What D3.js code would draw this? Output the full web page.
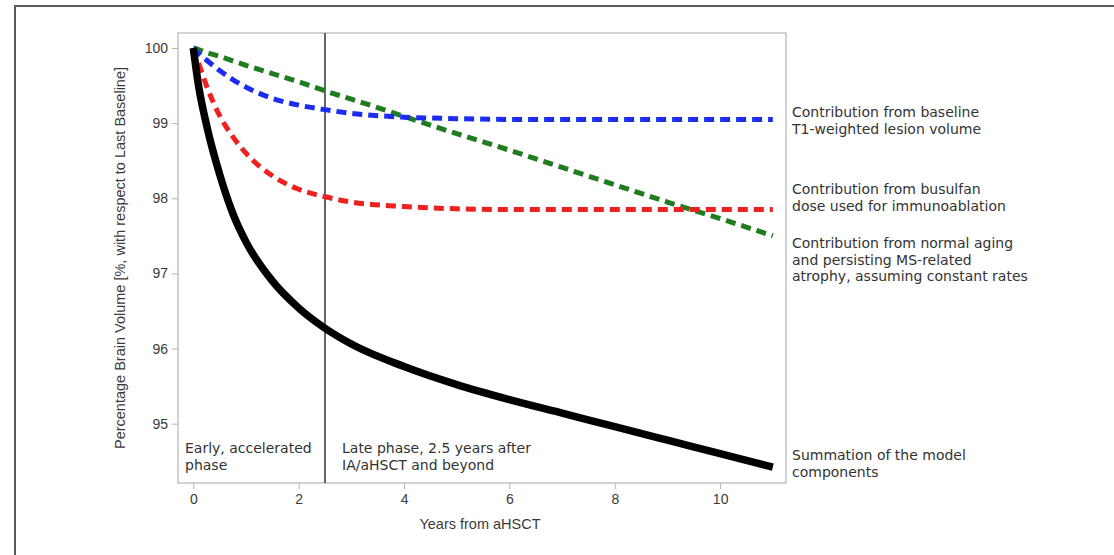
<!DOCTYPE html>
<html>
<head>
<meta charset="utf-8">
<script src="https://cdn.jsdelivr.net/npm/d3@7"></script>
<style>
  body { margin: 0; background: #fff; }
  svg { display: block; }
</style>
</head>
<body>
<script>
// years sampled along each curve
const years = [0, 0.1, 0.25, 0.5, 0.75, 1, 1.5, 2, 2.5, 3, 4, 5, 6, 7, 8, 9, 10, 11];

// model components
const lesionVol = [100, 99.93, 99.84, 99.7, 99.58, 99.48, 99.33, 99.24, 99.18, 99.13, 99.08, 99.06, 99.05, 99.05, 99.05, 99.05, 99.05, 99.05];
const busulfan  = [100, 99.8, 99.5, 99.1, 98.82, 98.6, 98.3, 98.12, 98.02, 97.95, 97.89, 97.86, 97.85, 97.85, 97.85, 97.85, 97.85, 97.85];
const aging     = [100, 99.98, 99.94, 99.89, 99.83, 99.77, 99.66, 99.55, 99.43, 99.32, 99.09, 98.86, 98.64, 98.41, 98.18, 97.95, 97.73, 97.5];
const summation = [100, 99.5, 98.98, 98.32, 97.8, 97.42, 96.9, 96.54, 96.27, 96.06, 95.76, 95.52, 95.32, 95.14, 94.96, 94.78, 94.6, 94.42];

const xTicks = [0, 2, 4, 6, 8, 10];
const yTicks = [95, 96, 97, 98, 99, 100];
const phaseYear = 2.5;

const seriesLabels = [
  ["Contribution from baseline", "T1-weighted lesion volume"],
  ["Contribution from busulfan", "dose used for immunoablation"],
  ["Contribution from normal aging", "and persisting MS-related", "atrophy, assuming constant rates"],
  ["Summation of the model", "components"]
];

const w = 1114, h = 555;
const pLeft = 178, pRight = 786, pTop = 33, pBottom = 483;

const svg = d3.select("body").append("svg")
  .attr("width", w)
  .attr("height", h);

// outer frame (runs off the page on right / bottom)
svg.append("rect")
  .attr("x", 15).attr("y", 6)
  .attr("width", 1200).attr("height", 700)
  .attr("fill", "none")
  .attr("stroke", "#5a5a5a")
  .attr("stroke-width", 2);

const x = d3.scaleLinear().domain([-0.29, 11.25]).range([pLeft, pRight]);
const y = d3.scaleLinear().domain([94.21, 100.2]).range([pBottom, pTop]);

// plot box
svg.append("rect")
  .attr("x", pLeft).attr("y", pTop)
  .attr("width", pRight - pLeft).attr("height", pBottom - pTop)
  .attr("fill", "none")
  .attr("stroke", "#b4b4b4")
  .attr("stroke-width", 1.2);

const xAxis = svg.append("g")
  .attr("transform", "translate(0," + pBottom + ")")
  .call(d3.axisBottom(x).tickValues(xTicks).tickSize(6).tickPadding(5).tickFormat(d3.format("d")));

const yAxis = svg.append("g")
  .attr("transform", "translate(" + pLeft + ",0)")
  .call(d3.axisLeft(y).tickValues(yTicks).tickSize(6).tickPadding(4).tickFormat(d3.format("d")));

[xAxis, yAxis].forEach(g => {
  g.select(".domain").remove();
  g.selectAll(".tick line").attr("stroke", "#b4b4b4");
  g.selectAll(".tick text")
    .attr("fill", "#3a3a3a")
    .style("font-family", "Liberation Sans, Arial, sans-serif")
    .style("font-size", "14px");
});

// axis titles
svg.append("text")
  .attr("x", 480)
  .attr("y", 529)
  .attr("text-anchor", "middle")
  .attr("fill", "#3a3a3a")
  .style("font-family", "Liberation Sans, Arial, sans-serif")
  .style("font-size", "14.5px")
  .text("Years from aHSCT");

svg.append("text")
  .attr("transform", "translate(125,258) rotate(-90)")
  .attr("text-anchor", "middle")
  .attr("fill", "#3a3a3a")
  .style("font-family", "Liberation Sans, Arial, sans-serif")
  .style("font-size", "14.5px")
  .text("Percentage Brain Volume [%, with respect to Last Baseline]");

// phase divider
svg.append("line")
  .attr("x1", x(phaseYear)).attr("x2", x(phaseYear))
  .attr("y1", pTop).attr("y2", pBottom)
  .attr("stroke", "#333")
  .attr("stroke-width", 1.5);

const line = vals => d3.line()
  .x((d, i) => x(years[i]))
  .y(d => y(d))
  .curve(d3.curveMonotoneX)(vals);

const dashed = [
  { vals: aging, color: "#1f7d1f" },
  { vals: busulfan, color: "#ee2020" },
  { vals: lesionVol, color: "#1c2cf0" }
];

dashed.forEach(s => {
  svg.append("path")
    .attr("d", line(s.vals))
    .attr("fill", "none")
    .attr("stroke", s.color)
    .attr("stroke-width", 5)
    .attr("stroke-dasharray", "10,6");
});

svg.append("path")
  .attr("d", line(summation))
  .attr("fill", "none")
  .attr("stroke", "#000")
  .attr("stroke-width", 7.5);

// text blocks
const note = (tx, ty, lines) => {
  const t = svg.append("text")
    .attr("fill", "#333")
    .style("font-family", "DejaVu Sans, Verdana, sans-serif")
    .style("font-size", "14px");
  lines.forEach((l, i) => {
    t.append("tspan").attr("x", tx).attr("y", ty + i * 16.5).text(l);
  });
};

note(185, 453, ["Early, accelerated", "phase"]);
note(342, 453, ["Late phase, 2.5 years after", "IA/aHSCT and beyond"]);

// series labels on the right
const labelY = [117, 194, 248, 460];
seriesLabels.forEach((s, i) => note(792, labelY[i], s));
</script>
</body>
</html>
